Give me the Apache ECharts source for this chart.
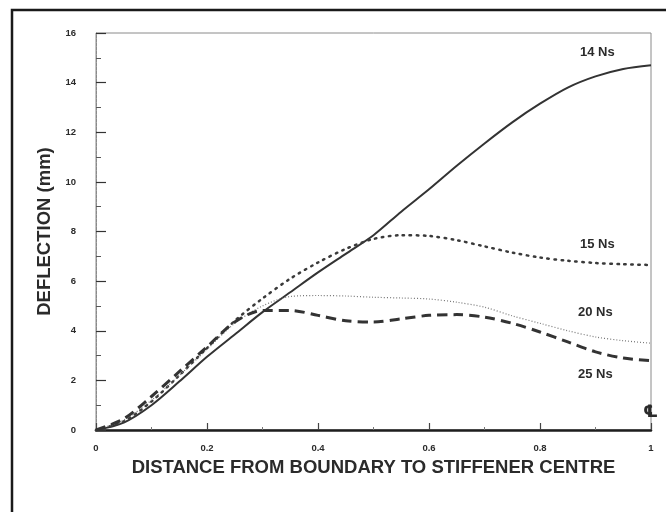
<!DOCTYPE html>
<html>
<head>
<meta charset="utf-8">
<script src="https://cdn.jsdelivr.net/npm/echarts@6/dist/echarts.min.js"></script>
<style>
  html, body { margin: 0; padding: 0; background: #fff; }
  #chart { width: 666px; height: 512px; }
</style>
</head>
<body>
<div id="chart"></div>
<script>
// Normalised distance from the boundary (0) to the stiffener centre (1)
const distance = [0, 0.05, 0.1, 0.15, 0.2, 0.25, 0.3, 0.35, 0.4, 0.45, 0.5,
                  0.55, 0.6, 0.65, 0.7, 0.75, 0.8, 0.85, 0.9, 0.95, 1.0];

// Deflection (mm) for each impulse level
const ns14 = [0, 0.3, 1.0, 1.95, 2.95, 3.85, 4.75, 5.55, 6.35, 7.1, 7.85,
              8.8, 9.7, 10.65, 11.55, 12.4, 13.15, 13.8, 14.25, 14.55, 14.7];
const ns15 = [0, 0.35, 1.15, 2.2, 3.3, 4.4, 5.3, 6.1, 6.75, 7.3, 7.7,
              7.85, 7.82, 7.65, 7.4, 7.15, 6.95, 6.82, 6.73, 6.68, 6.65];
const ns20 = [0, 0.4, 1.2, 2.2, 3.25, 4.3, 5.0, 5.38, 5.42, 5.4, 5.35,
              5.32, 5.28, 5.15, 4.95, 4.6, 4.3, 4.0, 3.75, 3.6, 3.5];
const ns25 = [0, 0.45, 1.35, 2.35, 3.35, 4.35, 4.82, 4.82, 4.62, 4.4, 4.35,
              4.48, 4.62, 4.65, 4.55, 4.3, 3.95, 3.55, 3.15, 2.9, 2.8];

const seriesNames = ['14 Ns', '15 Ns', '20 Ns', '25 Ns'];
const xTicks = [0, 0.2, 0.4, 0.6, 0.8, 1];
const yTicks = [0, 2, 4, 6, 8, 10, 12, 14, 16];

const pairs = ys => distance.map((x, i) => [x, ys[i]]);
const ink = '#2b2b2b';
const font = 'Liberation Sans, Arial, sans-serif';
const labelFont = 'bold 13px ' + font;

const chart = echarts.init(document.getElementById('chart'), null, { renderer: 'canvas' });

chart.setOption({
  animation: false,
  backgroundColor: '#fff',
  grid: {
    left: 96, right: 15, top: 33, bottom: 82,
    show: true, borderColor: '#8a8a8a', borderWidth: 1
  },
  xAxis: {
    type: 'value',
    min: xTicks[0], max: xTicks[xTicks.length - 1], interval: 0.2,
    name: 'DISTANCE FROM BOUNDARY TO STIFFENER CENTRE',
    nameLocation: 'middle', nameGap: 28,
    nameTextStyle: { fontFamily: font, fontWeight: 'bold', fontSize: 18.5, color: ink },
    axisLine: { show: true, lineStyle: { color: '#1e1e1e', width: 2.5 } },
    axisTick: { show: true, inside: true, length: 7, lineStyle: { color: '#444', width: 1.2 } },
    minorTick: { show: true, splitNumber: 2, length: 3, lineStyle: { color: '#777' } },
    axisLabel: { fontFamily: font, fontWeight: 'bold', fontSize: 9.5, color: ink, margin: 13 },
    splitLine: { show: false }
  },
  yAxis: {
    type: 'value',
    min: yTicks[0], max: yTicks[yTicks.length - 1], interval: 2,
    name: 'DEFLECTION (mm)',
    nameLocation: 'middle', nameGap: 34, nameRotate: 90,
    nameTextStyle: { fontFamily: font, fontWeight: 'bold', fontSize: 18.5, color: ink },
    axisLine: { show: true, lineStyle: { color: '#8a8a8a', width: 1, type: [3, 1] } },
    axisTick: { show: true, inside: true, length: 10, lineStyle: { color: '#333', width: 1.2 } },
    minorTick: { show: true, splitNumber: 2, length: 5, lineStyle: { color: '#555' } },
    axisLabel: { fontFamily: font, fontWeight: 'bold', fontSize: 9.5, color: ink, margin: 20 },
    splitLine: { show: false }
  },
  series: [
    {
      name: seriesNames[0], type: 'line', data: pairs(ns14), smooth: 0.3,
      showSymbol: false,
      lineStyle: { color: '#333', width: 2, type: 'solid' }
    },
    {
      name: seriesNames[1], type: 'line', data: pairs(ns15), smooth: 0.3,
      showSymbol: false,
      lineStyle: { color: '#3a3a3a', width: 2.5, type: [1.5, 5.5], cap: 'round' }
    },
    {
      name: seriesNames[2], type: 'line', data: pairs(ns20), smooth: 0.3,
      showSymbol: false,
      lineStyle: { color: '#777', width: 1.2, type: [1, 2] }
    },
    {
      name: seriesNames[3], type: 'line', data: pairs(ns25), smooth: 0.3,
      showSymbol: false,
      lineStyle: { color: '#333', width: 3, type: [10, 6] }
    }
  ],
  graphic: [
    // outer frame: only its left and top edges fall inside the figure
    { type: 'polyline', silent: true, z: 100,
      shape: { points: [[12, 600], [12, 10], [700, 10]] },
      style: { fill: null, stroke: '#1a1a1a', lineWidth: 2.5 } },
    // curve labels
    { type: 'text', left: 580, top: 46, z: 100,
      style: { text: seriesNames[0], font: labelFont, fill: ink } },
    { type: 'text', left: 580, top: 238, z: 100,
      style: { text: seriesNames[1], font: labelFont, fill: ink } },
    { type: 'text', left: 578, top: 306, z: 100,
      style: { text: seriesNames[2], font: labelFont, fill: ink } },
    { type: 'text', left: 578, top: 368, z: 100,
      style: { text: seriesNames[3], font: labelFont, fill: ink } },
    // centre-line symbol at the stiffener centre
    { type: 'text', left: 643, top: 404, z: 100,
      style: { text: '\u2104', font: 'bold 17px DejaVu Sans, sans-serif', fill: ink } }
  ]
});
</script>
</body>
</html>
